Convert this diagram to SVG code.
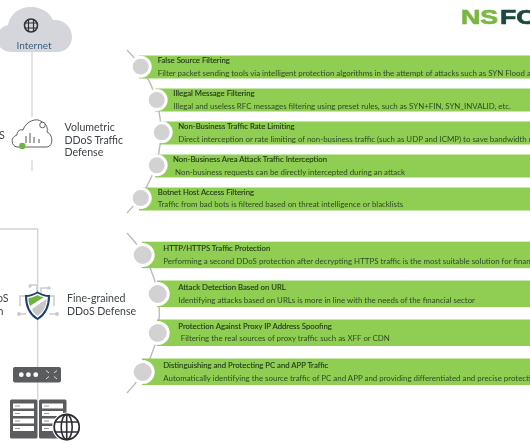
<svg xmlns="http://www.w3.org/2000/svg" width="530" height="443" viewBox="0 0 530 443">
<defs>
<filter id="soft" x="-5%" y="-5%" width="110%" height="110%"><feGaussianBlur stdDeviation="0.3"/></filter>
<symbol id="slot" overflow="visible"><rect x="0" y="0" width="21" height="5" fill="#fff"/><rect x="2" y="2" width="5" height="1" fill="#999"/></symbol>
</defs>
<style>
.band{fill:#8fce52}
.dot{fill:#d2d2d2;stroke:#fff;stroke-width:3}
.wire{fill:none;stroke:#d4d4d4;stroke-width:1.3}
.arc{fill:none;stroke:#bdbdbd;stroke-width:1.5}
.t{font-family:Lato,"Noto Sans",sans-serif;font-size:7.9px;fill:#2f4a24}
.h{font-family:Lato,"Noto Sans",sans-serif;font-size:7.75px;fill:#1f3318;stroke:#1f3318;stroke-width:.1}
.l{font-family:Lato,"Noto Sans",sans-serif;font-size:10.6px;fill:#3f4448}
.ic{fill:none;stroke:#555;stroke-width:1}
.g{fill:none;stroke:#2f3136;stroke-width:1.2}
</style>
<rect width="530" height="443" fill="#fff"/>
<g filter="url(#soft)">
<g id="connectors">
<path class="wire" d="M32 50V117M32 160V171M0 229H37.700V400"/>
<path class="arc" d="M127 50A115 115 0 0 1 127 213"/>
<path class="arc" d="M127 233A115 115 0 0 1 127 393"/>
</g>
<g id="logo">
<text x="461" y="24.300" font-family="'Liberation Sans',sans-serif" font-weight="700" font-size="20" textLength="37" lengthAdjust="spacingAndGlyphs" fill="#79b743" stroke="#79b743" stroke-width=".7">NS</text>
<text x="500" y="24.300" font-family="'Liberation Sans',sans-serif" font-weight="700" font-size="20" textLength="37" lengthAdjust="spacingAndGlyphs" fill="#1e4a3c" stroke="#1e4a3c" stroke-width=".7">FO</text>
</g>
<g id="internet">
<path d="M12 52C2 52-4 45-3 37-2 30 3 26 8 25 10 13 21 6 33 7 43 8 50 13 53 20 64 19 72 27 72 37 72 46 65 52 57 52Z" fill="#d5d6db"/>
<circle cx="31" cy="25.500" r="6.500" fill="none" stroke="#2f3136" stroke-width="1.600"/>
<path class="g" d="M24.500 23H37.500M24.500 28H37.500M28.500 19.500V31.500M33.500 19.500V31.500"/>
<text x="34" y="48.500" text-anchor="middle" font-family="Lato,'Noto Sans',sans-serif" font-size="10" fill="#3d5f82">Internet</text>
</g>
<g id="volumetric">
<text class="l" x="-1" y="139">S</text>
<path d="M17 147C11 146 10 137 17 135 17 131 20 129 23 130 26 121 37 117 42 122 47 124 48 129 47 132 53 134 54 146 47 147Z" fill="#fff" stroke="#4d4d4d" stroke-width=".9"/>
<circle cx="42.500" cy="125" r="2.800" fill="#fff" stroke="#4d4d4d" stroke-width=".9"/>
<circle cx="22.300" cy="146" r="3.200" fill="#6db33f"/>
<path class="ic" d="M26 136V143M30 133V143M34 137V143M39 139V143"/>
<text class="l" x="64.500" y="131">Volumetric</text>
<text class="l" x="64.500" y="143.500">DDoS Traffic</text>
<text class="l" x="64.500" y="155.500">Defense</text>
</g>
<g id="finegrained">
<text class="l" x="-3" y="301.500">oS</text>
<text class="l" x="-2.500" y="314.500">n</text>
<path d="M20 306V296H30M54 306V296H44M19 314H26M56 314H49M30 285H37V293M49 288H41V293" fill="none" stroke="#c9ccce" stroke-width="1.500"/>
<circle cx="30" cy="286" r="1.700" fill="#c9ccce"/><circle cx="49" cy="288" r="1.700" fill="#c9ccce"/><circle cx="19" cy="314" r="2" fill="#c9ccce"/><circle cx="57" cy="314" r="2" fill="#c9ccce"/>
<path d="M37.500 292.500C33 295 29 296 26 296 26 306 29 314 37.500 319 46 314 49 306 49 296 46 296 42 295 37.500 292.500Z" fill="#fff" stroke="#1d3f6e" stroke-width="2"/>
<path d="M37.500 295C34 297 31 298 28.500 298 28.500 301 29 304 30 306L44 297C41 297 39 296 37.500 295Z" fill="#6fb43f"/>
<path d="M46.500 299C46.500 305 44 312 37.500 316 35 314.500 33 312 32 309Z" fill="#c8c8c8"/>
<text class="l" x="67" y="302">Fine-grained</text>
<text class="l" x="67" y="314.500">DDoS Defense</text>
</g>
<g id="device">
<rect x="13" y="367" width="48" height="15.500" rx="2" fill="#5a5b5d"/>
<circle cx="21.300" cy="374.700" r="2.400" fill="#fff"/><circle cx="28.400" cy="374.700" r="2.400" fill="#fff"/><circle cx="35.700" cy="374.700" r="2.400" fill="#fff"/>
<path d="M46 370.500L49 373M57 370.500L54 373M46 379L49 376.500M57 379L54 376.500" stroke="#ddd" stroke-width="1" fill="none"/>
</g>
<g id="servers">
<rect x="10" y="399.500" width="27.500" height="39" rx="1.500" fill="#5a5b5d"/>
<rect x="39" y="399.500" width="27.500" height="39" rx="1.500" fill="#5a5b5d"/>
<use href="#slot" x="13" y="403.500"/><use href="#slot" x="13" y="411"/><use href="#slot" x="13" y="418.500"/><use href="#slot" x="13" y="426"/>
<use href="#slot" x="42" y="403.500"/><use href="#slot" x="42" y="411"/><use href="#slot" x="42" y="418.500"/><use href="#slot" x="42" y="426"/>
<circle cx="66.700" cy="427" r="14.500" fill="#fff"/>
<circle cx="66.700" cy="427" r="12.500" fill="#fff" stroke="#2d2f33" stroke-width="1.800"/>
<ellipse cx="66.700" cy="427" rx="5.500" ry="12.500" fill="none" stroke="#2d2f33" stroke-width="1.600"/>
<path d="M66.700 414.500V439.500M55.500 422H78M55.500 432H78" stroke="#2d2f33" stroke-width="1.600" fill="none"/>
</g>
<g id="n1"><rect class="band" x="139" y="55.500" width="391" height="23"/><circle class="dot" cx="140.700" cy="66.700" r="9.500"/>
<text class="h" x="157.700" y="62.800">False Source Filtering</text><text class="t" x="157.700" y="75.700">Filter packet sending tools via intelligent protection algorithms in the attempt of attacks such as SYN Flood and</text></g>
<g id="n2"><rect class="band" x="155" y="88.500" width="375" height="23"/><circle class="dot" cx="156.700" cy="100" r="9.500"/>
<text class="h" x="173.300" y="95.800">Illegal Message Filtering</text><text class="t" x="173.300" y="108.700">Illegal and useless RFC messages filtering using preset rules, such as SYN+FIN, SYN_INVALID, etc.</text></g>
<g id="n3"><rect class="band" x="160" y="121.500" width="370" height="23"/><circle class="dot" cx="161.700" cy="132.300" r="9.500"/>
<text class="h" x="178.300" y="128.800">Non-Business Traffic Rate Limiting</text><text class="t" x="178.300" y="141.700">Direct interception or rate limiting of non-business traffic (such as UDP and ICMP) to save bandwidth resources</text></g>
<g id="n4"><rect class="band" x="155" y="154.500" width="375" height="23"/><circle class="dot" cx="156.700" cy="165.300" r="9.500"/>
<text class="h" x="173" y="161.800">Non-Business Area Attack Traffic Interception</text><text class="t" x="175" y="174.700">Non-business requests can be directly intercepted during an attack</text></g>
<g id="n5"><rect class="band" x="139" y="187.500" width="391" height="23"/><circle class="dot" cx="140.700" cy="198" r="9.500"/>
<text class="h" x="157.700" y="194.500">Botnet Host Access Filtering</text><text class="t" x="157.700" y="207.200">Traffic from bad bots is filtered based on threat intelligence or blacklists</text></g>
<g id="n6"><rect class="band" x="142" y="241.700" width="388" height="26.500"/><circle class="dot" cx="142.700" cy="255" r="10.500"/>
<text class="h" x="163.300" y="250.700">HTTP/HTTPS Traffic Protection</text><text class="t" x="163.300" y="263.700">Performing a second DDoS protection after decrypting HTTPS traffic is the most suitable solution for financial</text></g>
<g id="n7"><rect class="band" x="157" y="280.500" width="373" height="26.500"/><circle class="dot" cx="157.700" cy="294" r="10.500"/>
<text class="h" x="178.300" y="289.500">Attack Detection Based on URL</text><text class="t" x="178.300" y="302.500">Identifying attacks based on URLs is more in line with the needs of the financial sector</text></g>
<g id="n8"><rect class="band" x="157" y="319.500" width="373" height="26.500"/><circle class="dot" cx="157.700" cy="333" r="10.500"/>
<text class="h" x="178.300" y="328.500">Protection Against Proxy IP Address Spoofing</text><text class="t" x="180.700" y="341.300">Filtering the real sources of proxy traffic such as XFF or CDN</text></g>
<g id="n9"><rect class="band" x="142" y="358.500" width="388" height="26.500"/><circle class="dot" cx="142.700" cy="372" r="10.500"/>
<text class="h" x="163.300" y="367.500">Distinguishing and Protecting PC and APP Traffic</text><text class="t" x="163.300" y="380.500">Automatically identifying the source traffic of PC and APP and providing differentiated and precise protection</text></g>
</g>
</svg>
